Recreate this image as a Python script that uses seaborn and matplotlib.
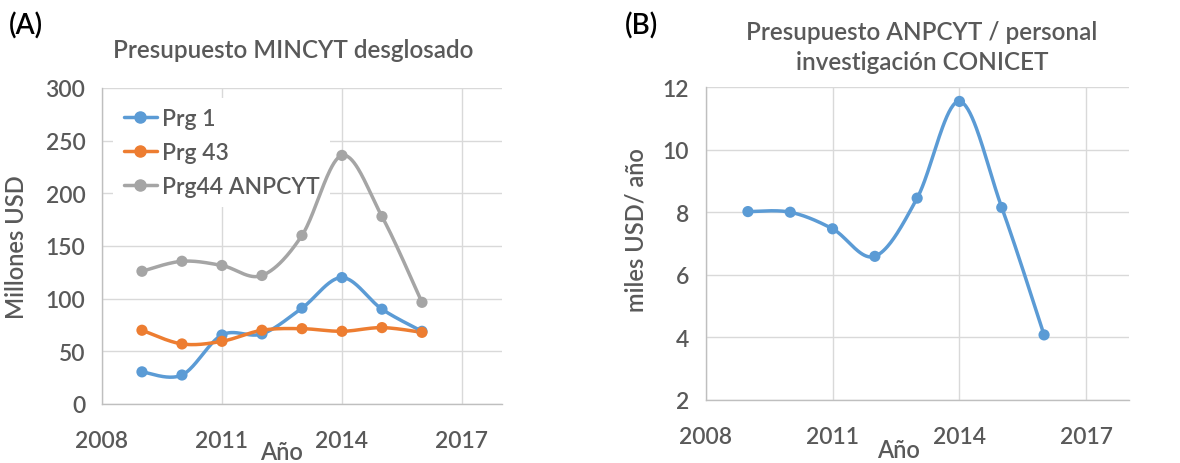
import numpy as np
import pandas as pd
import matplotlib
matplotlib.use("Agg")
import matplotlib.pyplot as plt
import seaborn as sns
from matplotlib.lines import Line2D

# ---------------- data ----------------
years = [2009, 2010, 2011, 2012, 2013, 2014, 2015, 2016]
prg1 = [30.5, 27.5, 65.5, 66.5, 91, 120, 90, 69]
prg43 = [70, 57, 59.5, 70, 71.5, 69, 72.5, 68]
prg44 = [126, 135.5, 131.5, 122, 160, 236, 178, 96.5]
anpcyt_per_capita = [8.02, 8.0, 7.47, 6.59, 8.45, 11.54, 8.15, 4.08]

series_names = ["Prg 1", "Prg 43", "Prg44 ANPCYT"]
series_colors = ["#5B9BD5", "#ED7D31", "#A5A5A5"]
xticks = [2008, 2011, 2014, 2017]
yticks_a = [0, 50, 100, 150, 200, 250, 300]
yticks_b = [2, 4, 6, 8, 10, 12]

title_a = "Presupuesto MINCYT desglosado"
title_b = "Presupuesto ANPCYT / personal\ninvestigación CONICET"
ylabel_a = "Millones USD"
ylabel_b = "miles USD/ año"
xlabel = "Año"

FONT = "Lato"
TXT = "#595959"
GRID = "#D9D9D9"
W = "semibold"


def excel_smooth(x, y, n=40):
    """Catmull-Rom style Bezier smoothing like spreadsheet 'smoothed line'."""
    x = np.asarray(x, float)
    y = np.asarray(y, float)
    P = np.column_stack([x, y])
    out = []
    m = len(P)
    for i in range(m - 1):
        p0 = P[i - 1] if i > 0 else P[i]
        p1 = P[i]
        p2 = P[i + 1]
        p3 = P[i + 2] if i + 2 < m else P[i + 1]
        c1 = p1 + (p2 - p0) / 6.0
        c2 = p2 - (p3 - p1) / 6.0
        t = np.linspace(0, 1, n, endpoint=(i == m - 2))[:, None]
        b = ((1 - t) ** 3) * p1 + 3 * ((1 - t) ** 2) * t * c1 + 3 * (1 - t) * t ** 2 * c2 + t ** 3 * p2
        out.append(b)
    out = np.vstack(out)
    return out[:, 0], out[:, 1]


sns.set_theme(style="white")
plt.rcParams["font.family"] = [FONT, "DejaVu Sans"]
plt.rcParams["font.weight"] = W

fig = plt.figure(figsize=(11.8, 4.64), dpi=100)
axA = fig.add_axes([0.0864, 0.1272, 0.339, 0.681])
axB = fig.add_axes([0.598, 0.1358, 0.3585, 0.6745])


def style_axes(ax, yticks, ylim):
    ax.set_xlim(2008, 2018)
    ax.set_ylim(*ylim)
    ax.set_xticks(xticks)
    ax.set_yticks(yticks)
    ax.grid(True, color=GRID, linewidth=1.0)
    ax.set_axisbelow(True)
    for s in ["top", "right"]:
        ax.spines[s].set_visible(False)
    for s in ["left", "bottom"]:
        ax.spines[s].set_color("#BFBFBF")
        ax.spines[s].set_linewidth(1.0)
    ax.tick_params(axis="both", length=0, labelsize=16.5, labelcolor=TXT)
    ax.tick_params(axis="x", pad=19)
    ax.tick_params(axis="y", pad=12)
    for lab in ax.get_xticklabels() + ax.get_yticklabels():
        lab.set_fontweight(W)


LW = 2.5
MS = 65

# ---------- Panel A ----------
dataA = [prg1, prg43, prg44]
handles = []
for name, vals, col in zip(series_names, dataA, series_colors):
    sx, sy = excel_smooth(years, vals)
    sns.lineplot(x=sx, y=sy, ax=axA, color=col, linewidth=LW, sort=False,
                 estimator=None, zorder=3)
    sns.scatterplot(x=years, y=vals, ax=axA, color=col, s=MS, edgecolor="none",
                    zorder=4)
    handles.append(Line2D([], [], color=col, lw=LW, marker="o", markersize=8))

style_axes(axA, yticks_a, (0, 300))
leg = axA.legend(handles, series_names, loc="upper left",
                 bbox_to_anchor=(0.0, 1.005), frameon=True,
                 prop={"size": 16.5, "weight": W},
                 handlelength=1.45, handletextpad=0.2, labelspacing=0.56,
                 borderpad=0.45, borderaxespad=0.5, labelcolor=TXT)
leg.get_frame().set_facecolor("white")
leg.get_frame().set_edgecolor("none")
leg.get_frame().set_alpha(1)
leg.set_zorder(2)

axA.set_ylabel(ylabel_a, fontsize=17, color=TXT, fontweight=W)
axA.yaxis.set_label_coords(-0.185, 0.5)
axA.set_xlabel(xlabel, fontsize=17, color=TXT, fontweight=W)
axA.xaxis.set_label_coords(0.45, -0.115)

# ---------- Panel B ----------
sx, sy = excel_smooth(years, anpcyt_per_capita)
sns.lineplot(x=sx, y=sy, ax=axB, color=series_colors[0], linewidth=LW,
             sort=False, estimator=None, zorder=3)
sns.scatterplot(x=years, y=anpcyt_per_capita, ax=axB, color=series_colors[0],
                s=MS, edgecolor="none", zorder=4)
style_axes(axB, yticks_b, (2, 12))
axB.set_ylabel(ylabel_b, fontsize=17, color=TXT, fontweight=W)
axB.yaxis.set_label_coords(-0.137, 0.546)
axB.set_xlabel(xlabel, fontsize=17, color=TXT, fontweight=W)
axB.xaxis.set_label_coords(0.456, -0.122)

# ---------- titles / panel letters ----------
fig.text(293 / 1180, 1 - 50 / 464, title_a, ha="center", va="center",
         fontsize=17.5, color=TXT, fontweight=W)
fig.text(922 / 1180, 1 - 47.5 / 464, title_b, ha="center", va="center",
         fontsize=17.5, color=TXT, linespacing=1.42, fontweight=W)
fig.text(26 / 1180, 1 - 26 / 464, "(A)", ha="center", va="center",
         fontsize=20, color="black", fontweight=W)
fig.text(642 / 1180, 1 - 26 / 464, "(B)", ha="center", va="center",
         fontsize=20, color="black", fontweight=W)

fig.savefig("out.png", dpi=100)
